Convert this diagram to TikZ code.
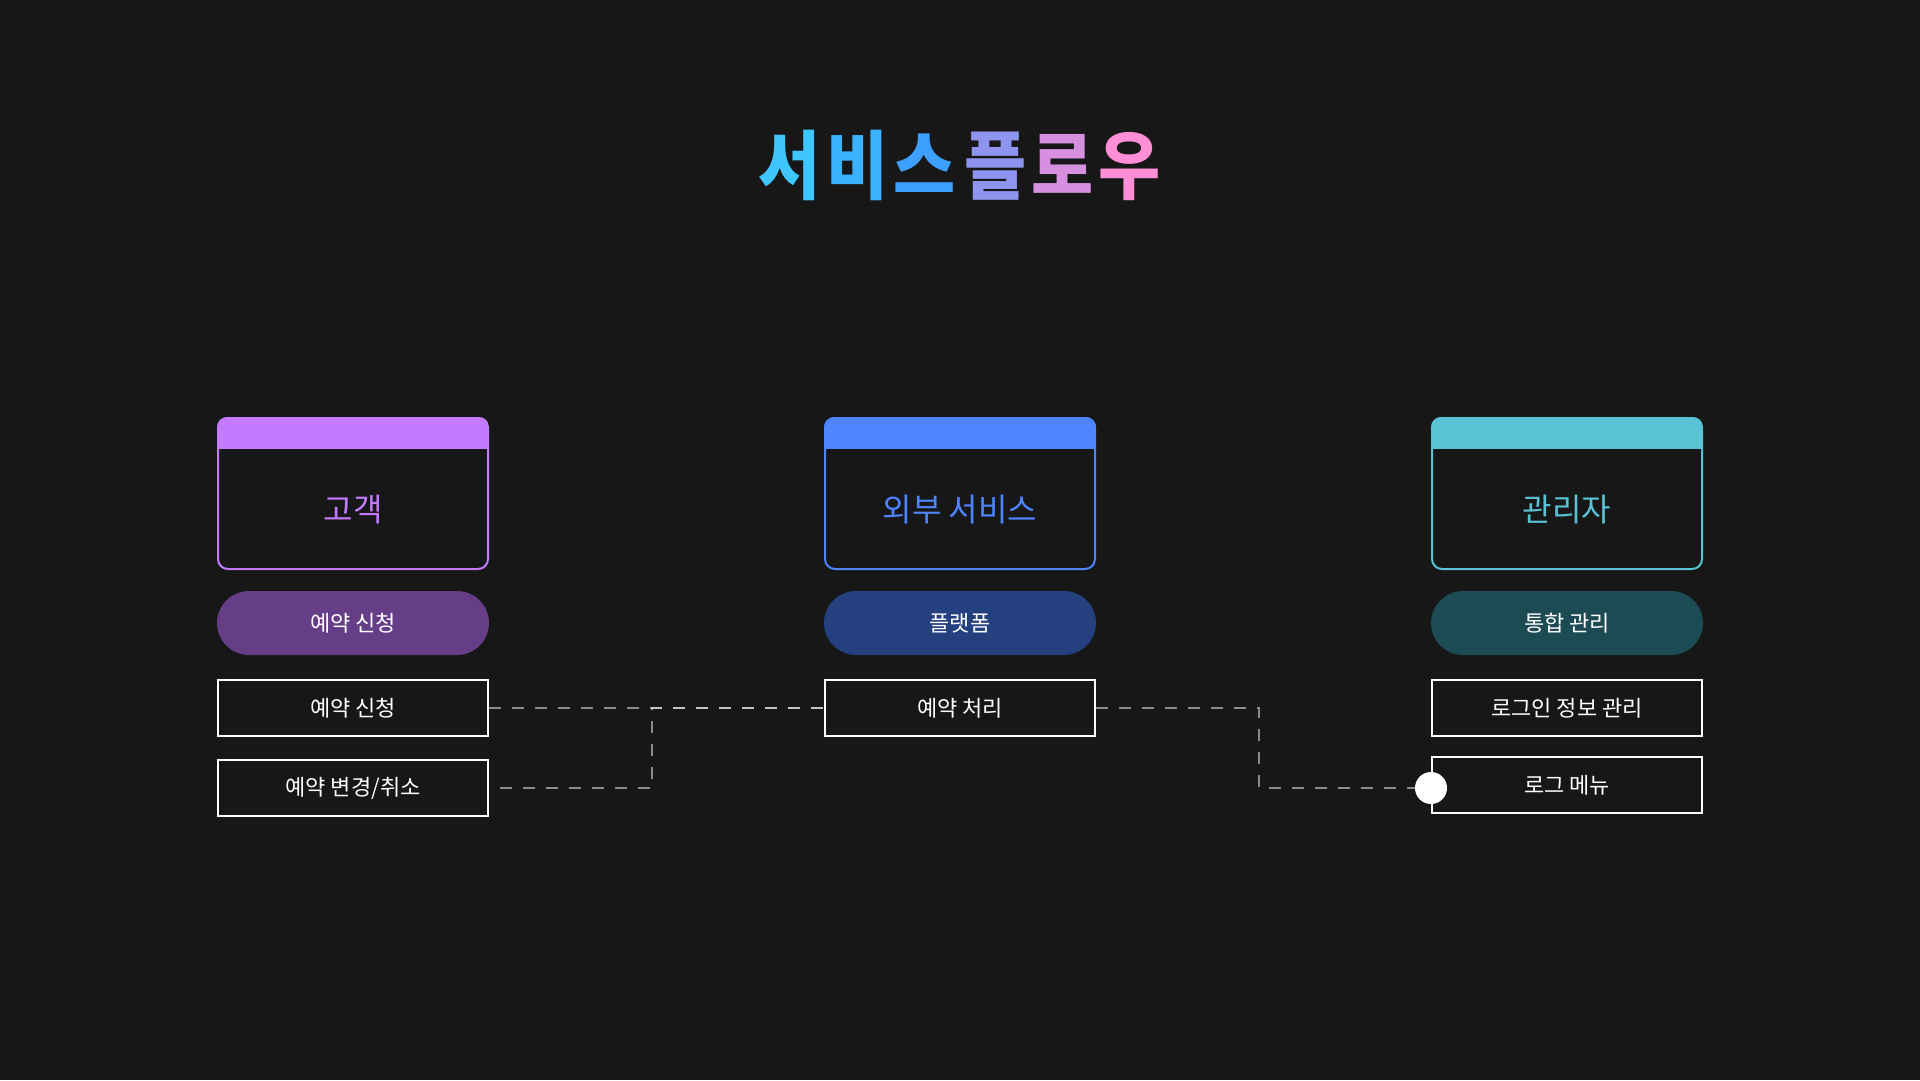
\documentclass[tikz,border=0pt]{standalone}
\usepackage{fontspec}
\setmainfont{Noto Sans CJK KR}
\newfontfamily\titlefont{Noto Sans CJK KR}[FakeStretch=0.9]
\usepackage{xcolor}
\usetikzlibrary{positioning,calc}

\definecolor{bg}{HTML}{171717}
\definecolor{cpur}{HTML}{C47AFF}
\definecolor{ppur}{HTML}{663D87}
\definecolor{cblu}{HTML}{4F84FF}
\definecolor{pblu}{HTML}{24407F}
\definecolor{ctea}{HTML}{59C2D4}
\definecolor{ptea}{HTML}{1C4B54}
\definecolor{ta}{HTML}{40C6FF}
\definecolor{tb}{HTML}{3AB2FF}
\definecolor{tc}{HTML}{3D9FFF}
\definecolor{td}{HTML}{8F95EE}
\definecolor{te}{HTML}{D690DF}
\definecolor{tf}{HTML}{FF8ED7}

\begin{document}
\begin{tikzpicture}[x=1pt, y=-1pt, font=\fontsize{22}{26}\selectfont,
    card/.style={draw=#1, line width=2pt, rounded corners=10pt,
      minimum width=270pt, minimum height=151pt, inner sep=0pt},
    head/.style={text=#1, font=\fontsize{32}{38}\selectfont},
    pill/.style={fill=#1, rounded corners=32pt, minimum width=272pt,
      minimum height=64pt, inner sep=0pt, text=white},
    item/.style={draw=white, line width=2pt, minimum width=270pt,
      minimum height=56pt, inner sep=0pt, text=white},
    link/.style={draw=white, draw opacity=0.5, line width=2pt,
      dash pattern=on 12pt off 11pt}]
    \fill[bg] (0,0) rectangle (1920,1080);
    \useasboundingbox (0,0) rectangle (1920,1080);
    % ---- title
    \node (title) at (960,165) {\titlefont\fontsize{75}{85}\selectfont\bfseries
      {\color{ta}서}\kern5pt{\color{tb}비}\kern5pt{\color{tc}스} \kern-6pt{\color{td}플}\kern5pt{\color{te}로}\kern5pt{\color{tf}우}};
    % ---- left column : customer
    \begin{scope}[xshift=353pt]
      \node[card=cpur] (c) at (0,493.5) {};
      \begin{scope}
        \clip[rounded corners=10pt] (c.north west) rectangle (c.south east);
        \fill[cpur] (c.north west) rectangle ($(c.north east)+(0,32)$);
      \end{scope}
      \node[head=cpur] (cl) at (0,510) {고객};
      \node[pill=ppur] (cp) at (0,623) {예약 신청};
      \node[item] (c1) at (0,708) {예약 신청};
      \node[item] (c2) at (0,788) {예약 변경/취소};
    \end{scope}
    % ---- middle column : external service
    \begin{scope}[xshift=960pt]
      \node[card=cblu] (m) at (0,493.5) {};
      \begin{scope}
        \clip[rounded corners=10pt] (m.north west) rectangle (m.south east);
        \fill[cblu] (m.north west) rectangle ($(m.north east)+(0,32)$);
      \end{scope}
      \node[head=cblu] (ml) at (0,510) {외부 서비스};
      \node[pill=pblu] (mp) at (0,623) {플랫폼};
      \node[item] (m1) at (0,708) {예약 처리};
    \end{scope}
    % ---- right column : admin
    \begin{scope}[xshift=1567pt]
      \node[card=ctea] (r) at (0,493.5) {};
      \begin{scope}
        \clip[rounded corners=10pt] (r.north west) rectangle (r.south east);
        \fill[ctea] (r.north west) rectangle ($(r.north east)+(0,32)$);
      \end{scope}
      \node[head=ctea] (rl) at (0,510) {관리자};
      \node[pill=ptea] (rp) at (0,623) {통합 관리};
      \node[item] (r1) at (0,708) {로그인 정보 관리};
      \node[item] (r2) at (0,785) {로그 메뉴};
    \end{scope}
    % ---- dashed links (phase of the lower one shifted so both meet in step)
    \coordinate (j1) at (652,708);
    \coordinate (j2) at (1259,788);
    \node[circle, fill=white, minimum size=32pt, inner sep=0pt] (dot) at (1431,788) {};
    \draw[link] (c1.east) -- (m1.west);
    \draw[link, dash phase=12pt] (c2.east) -| (j1) -- (m1.west);
    \draw[link] (m1.east) -| (j2) -- (dot.west);
  \end{tikzpicture}
\end{document}
